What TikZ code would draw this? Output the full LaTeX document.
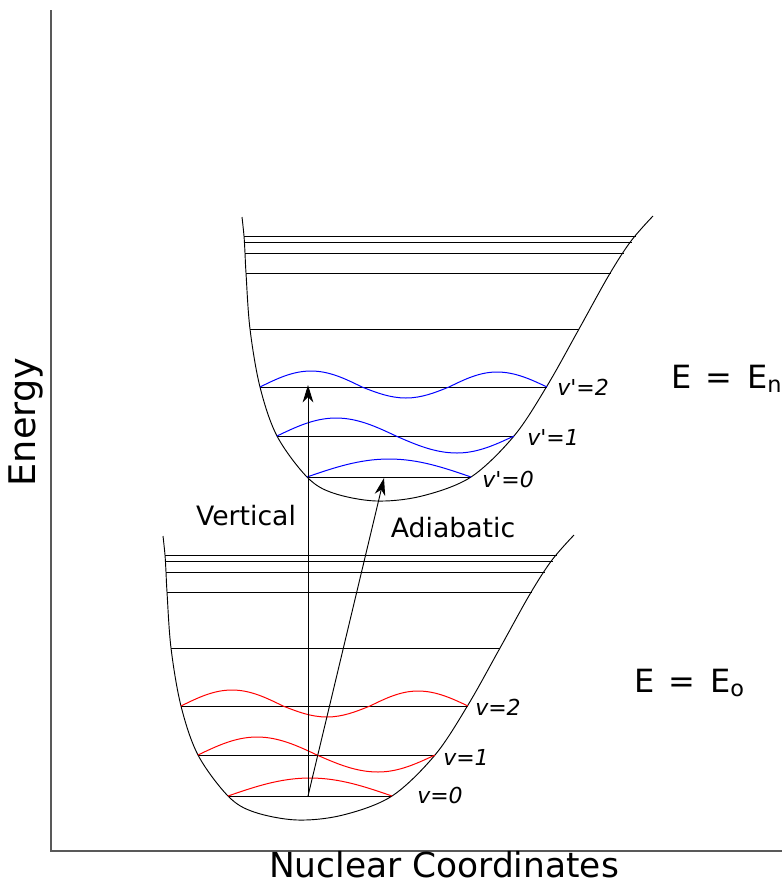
\documentclass[tikz,border=0pt]{standalone}
\usepackage{fontspec}
\setmainfont{DejaVu Sans}
\usetikzlibrary{arrows.meta}

% one potential well with its vibrational levels; #1 = wave colour
\newcommand{\drawwell}[1]{%
  \draw[wall] plot[smooth, tension=0.55] coordinates {
    (163,536) (165,555) (166,572) (167,592) (171,648) (181,706)
    (198,755) (228,796) (254,812) (297,820) (343,815) (392,796)
    (435,755) (468,705) (500,648) (530,594) (552,560) (574,535)};
  \foreach \y/\xa/\xb in {555/165/557, 561/165/553, 572/166/545,
      592/167/532, 648/171/500, 706/181/468, 755/198/435, 796/228/392}
    \draw[vlevel] (\xa,\y) -- (\xb,\y);
  \draw[wave, #1] (228,796) sin (310,778) cos (392,796);
  \draw[wave, #1] (198,755) sin (257,737) cos (317,755) sin (378,772) cos (435,755);
  \draw[wave, #1] (181,706) sin (232,690) cos (283,706) sin (327,717)
    cos (370,706) sin (418,691) cos (468,706);
}

\begin{document}
\begin{tikzpicture}[
    x=0.75pt, y=-0.75pt,
    every node/.style={inner sep=0pt},
    wall/.style={line width=0.7pt},
    vlevel/.style={line width=0.7pt},
    wave/.style={line width=0.75pt},
    axis/.style={line width=1.3pt, black!65},
    jump/.style={line width=0.7pt, -{Stealth[length=13pt, width=8pt, inset=4pt]}},
    lbl/.style={font=\fontsize{20}{24}\selectfont},
    qnum/.style={font=\fontsize{16.5}{19}\selectfont\itshape, anchor=base west},
    eq/.style={font=\fontsize{24}{28}\selectfont, anchor=base west},
  ]
  \useasboundingbox (0,0) rectangle (782,886);

  % axes
  \draw[axis] (51,10) -- (51,851) -- (782,851);
  \node[font=\fontsize{27.5}{32}\selectfont, rotate=90, anchor=base] (energy)
    at (36,422) {Energy};
  \node[font=\fontsize{25.8}{30}\selectfont, anchor=base] (nuc)
    at (444,877) {Nuclear Coordinates};

  % ground state and excited state
  \drawwell{red}
  \begin{scope}[shift={(79,-319)}]
    \drawwell{blue}
  \end{scope}

  % transitions
  \coordinate (g0) at (308,796);
  \coordinate (e2) at (308,385);
  \coordinate (e0) at (384,478);
  \draw[jump] (g0) -- (e2);
  \draw[jump] (g0) -- (e0);
  \node[lbl, anchor=base] (vert) at (246,525) {Vertical};
  \node[lbl, anchor=base] (adia) at (453,537) {Adiabatic};

  % quantum numbers
  \node[qnum] (ve2) at (557,395) {v\textquotesingle=2};
  \node[qnum] (ve1) at (527,445) {v\textquotesingle=1};
  \node[qnum] (ve0) at (482,487) {v\textquotesingle=0};
  \node[qnum] (vg2) at (475,715) {v=2};
  \node[qnum] (vg1) at (443,765) {v=1};
  \node[qnum] (vg0) at (417,803) {v=0};

  \node[eq] (en) at (671,388) {E\hspace{0.45em}=\hspace{0.45em}E\textsubscript{n}};
  \node[eq] (eo) at (634,692) {E\hspace{0.45em}=\hspace{0.45em}E\textsubscript{o}};
\end{tikzpicture}
\end{document}
